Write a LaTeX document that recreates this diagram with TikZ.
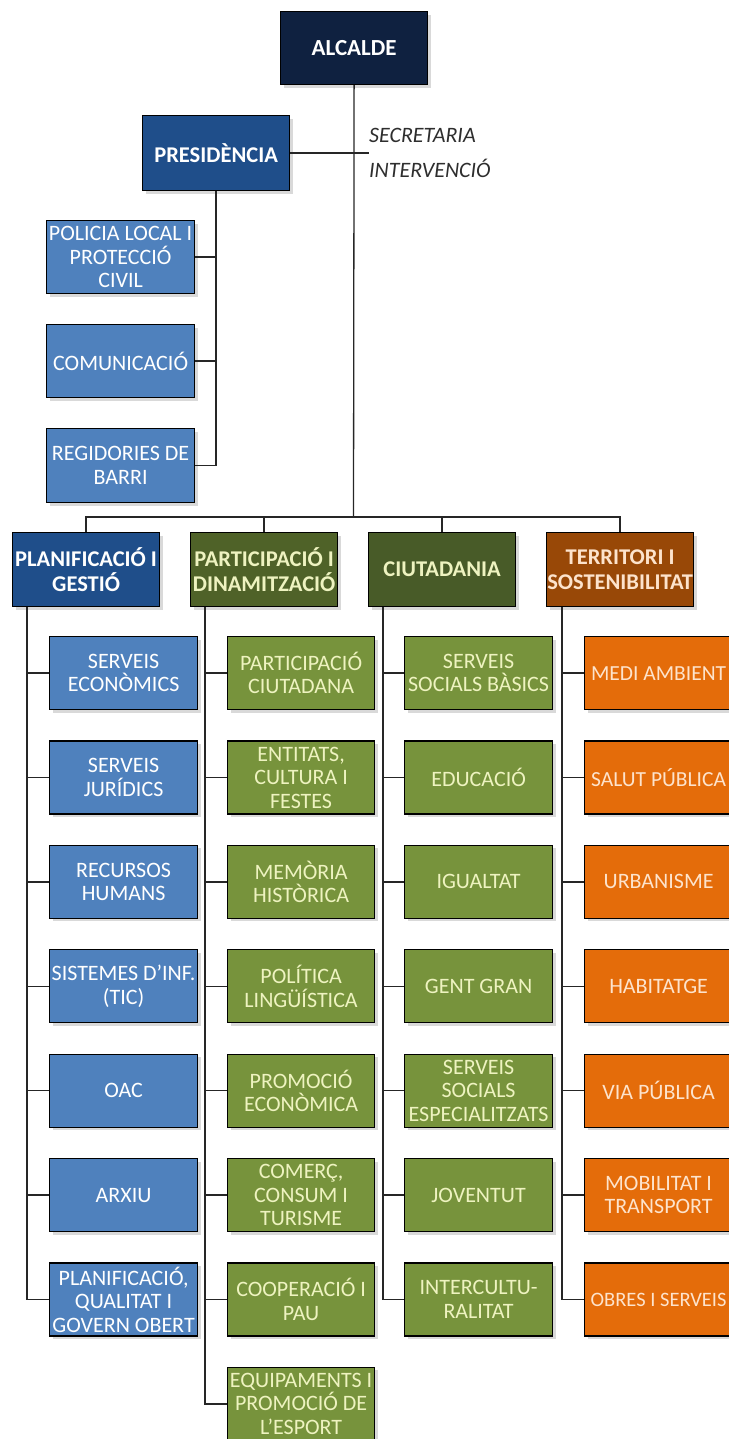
\documentclass[tikz,border=0pt]{standalone}
\usepackage{fontspec}
\setmainfont{Carlito}
\usetikzlibrary{shadows}
\definecolor{navy}{HTML}{0F2140}
\definecolor{dblue}{HTML}{1F4E8A}
\definecolor{lblue}{HTML}{4F81BD}
\definecolor{dgreen}{HTML}{4F6228}
\definecolor{dgreenb}{HTML}{485B28}
\definecolor{lgreen}{HTML}{77933C}
\definecolor{brown}{HTML}{984807}
\definecolor{lorange}{HTML}{E46C0A}
\definecolor{gtext}{HTML}{EEF3C0}
\definecolor{otext}{HTML}{FDE3CC}
\definecolor{captext}{HTML}{2E2E2E}
\newcommand\mkl[1]{\makebox[136pt]{#1}}
\begin{document}
\begin{tikzpicture}[x=1pt,y=-1pt,
  box/.style={draw=black, line width=1.2pt, minimum width=148pt, minimum height=73pt,
    inner sep=0pt, anchor=north west, align=center,
    font=\fontsize{22}{23.5}\selectfont,
    drop shadow={shadow xshift=3pt, shadow yshift=-3pt, opacity=0.3}},
  head/.style={box, minimum width=147pt, minimum height=74pt, font=\bfseries\fontsize{22.5}{25}\selectfont},
  bluebox/.style={box, fill=lblue, text=white},
  greenbox/.style={box, fill=lgreen, text=gtext},
  orangebox/.style={box, fill=lorange, text=otext},
  conn/.style={draw=black!85, line width=1.3pt},
  caption/.style={anchor=west, inner sep=0pt, text=captext, font=\itshape\fontsize{22}{24}\selectfont}]
\useasboundingbox (0,0) rectangle (728,1439);

% top
\node[head, fill=navy, text=white, minimum height=73pt, font=\bfseries\fontsize{23}{25}\selectfont] (alc) at (280,11) {ALCALDE};
\node[head, fill=dblue, text=white, minimum height=75pt] (pres) at (142,115) {PRESIDÈNCIA};
\coordinate (sec) at (369,0);
\coordinate (bus) at (353.5,517);
\node[caption] (t-sec) at (369,135) {SECRETARIA};
\node[caption] (t-int) at (369,168) {INTERVENCIÓ};

% presidencia children
\node[bluebox] (p1) at (46,220) {\mkl{POLICIA LOCAL I}\\\mkl{PROTECCIÓ}\\\mkl{CIVIL}};
\node[bluebox] (p2) at (46,324) {\mkl{COMUNICACIÓ}};
\node[bluebox, minimum height=74pt] (p3) at (46,428) {\mkl{REGIDORIES DE}\\\mkl{BARRI}};

% headers
\node[head, fill=dblue, text=white] (h1) at (12,532) {\mkl{PLANIFICACIÓ I}\\\mkl{GESTIÓ}};
\node[head, fill=dgreen, text=gtext] (h2) at (190,532) {\mkl{PARTICIPACIÓ I}\\\mkl{DINAMITZACIÓ}};
\node[head, fill=dgreenb, text=gtext] (h3) at (368,532) {\mkl{CIUTADANIA}};
\node[head, fill=brown, text=otext] (h4) at (546,532) {\mkl{TERRITORI I}\\\mkl{SOSTENIBILITAT}};

\coordinate (t1) at ([xshift=15pt]h1.south west);
\coordinate (t2) at ([xshift=15pt]h2.south west);
\coordinate (t3) at ([xshift=15pt]h3.south west);
\coordinate (t4) at ([xshift=16pt]h4.south west);

% column 1
\foreach \txt [count=\i] in {
  {\mkl{SERVEIS}\\\mkl{ECONÒMICS}},
  {\mkl{SERVEIS}\\\mkl{JURÍDICS}},
  {\mkl{RECURSOS}\\\mkl{HUMANS}},
  {\mkl{SISTEMES D'INF.}\\\mkl{(TIC)}},
  {\mkl{OAC}},
  {\mkl{ARXIU}},
  {\mkl{PLANIFICACIÓ,}\\\mkl{QUALITAT I}\\\mkl{GOVERN OBERT}}}{
  \node[bluebox] (a\i) at (49,{636+104.4*(\i-1)}) {\txt};
  \draw[conn] (a\i.west) -- (a\i.west -| t1);
}
% column 2
\foreach \txt [count=\i] in {
  {\mkl{PARTICIPACIÓ}\\\mkl{CIUTADANA}},
  {\mkl{ENTITATS,}\\\mkl{CULTURA I}\\\mkl{FESTES}},
  {\mkl{MEMÒRIA}\\\mkl{HISTÒRICA}},
  {\mkl{POLÍTICA}\\\mkl{LINGÜÍSTICA}},
  {\mkl{PROMOCIÓ}\\\mkl{ECONÒMICA}},
  {\mkl{COMERÇ,}\\\mkl{CONSUM I}\\\mkl{TURISME}},
  {\mkl{COOPERACIÓ I}\\\mkl{PAU}},
  {\mkl{EQUIPAMENTS I}\\\mkl{PROMOCIÓ DE}\\\mkl{L'ESPORT}}}{
  \node[greenbox, minimum width=147pt] (b\i) at (227,{636+104.4*(\i-1)}) {\txt};
  \draw[conn] (b\i.west) -- (b\i.west -| t2);
}
% column 3
\foreach \txt [count=\i] in {
  {\mkl{SERVEIS}\\\mkl{SOCIALS BÀSICS}},
  {\mkl{EDUCACIÓ}},
  {\mkl{IGUALTAT}},
  {\mkl{GENT GRAN}},
  {\mkl{SERVEIS}\\\mkl{SOCIALS}\\\mkl{ESPECIALITZATS}},
  {\mkl{JOVENTUT}},
  {\mkl{INTERCULTU-}\\\mkl{RALITAT}}}{
  \node[greenbox] (c\i) at (404,{636+104.4*(\i-1)}) {\txt};
  \draw[conn] (c\i.west) -- (c\i.west -| t3);
}
% column 4
\foreach \txt/\fs [count=\i] in {
  {\mkl{MEDI AMBIENT}}/21.5,
  {\mkl{SALUT PÚBLICA}}/21.5,
  {\mkl{URBANISME}}/22,
  {\mkl{HABITATGE}}/22,
  {\mkl{VIA PÚBLICA}}/22,
  {\mkl{MOBILITAT I}\\\mkl{TRANSPORT}}/22,
  {\mkl{OBRES I SERVEIS}}/20.5}{
  \node[orangebox, font=\fontsize{\fs}{23.5}\selectfont] (d\i) at (584,{636+104.4*(\i-1)}) {\txt};
  \draw[conn] (d\i.west) -- (d\i.west -| t4);
}

% trunks
\draw[conn] (t1) |- (a7.west);
\draw[conn] (t2) |- (b8.west);
\draw[conn] (t3) |- (c7.west);
\draw[conn] (t4) |- (d7.west);

% main structure
\draw[conn] (alc.south) -- (bus);
\draw[conn] (h1.north) |- (bus) -| (h4.north);
\draw[conn] (h2.north) -- (h2.north |- bus);
\draw[conn] (h3.north) -- (h3.north |- bus);
\draw[conn] (pres.east) -- (pres.east -| sec);
\draw[conn] (pres.south) |- (p3.east);
\draw[conn] (p1.east) -- (p1.east -| pres.south);
\draw[conn] (p2.east) -- (p2.east -| pres.south);
\end{tikzpicture}
\end{document}
